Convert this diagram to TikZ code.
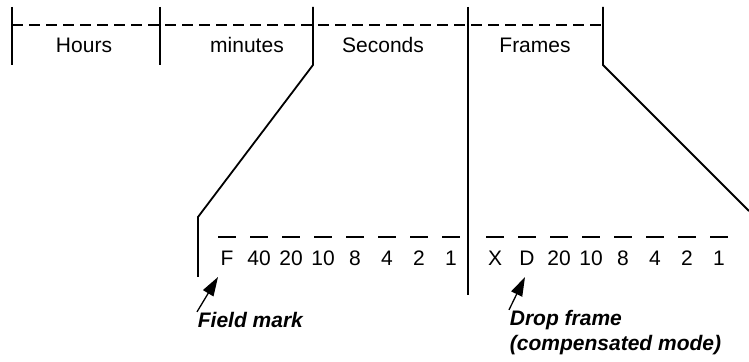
\documentclass[tikz,border=0pt]{standalone}
\usepackage{fontspec}
\setmainfont{Liberation Sans}
\usetikzlibrary{arrows.meta}

\begin{document}
\begin{tikzpicture}[x=0.5pt, y=-0.5pt, line width=0.9pt,
  every node/.style={inner sep=0pt, font=\fontsize{10.5}{12.5}\selectfont},
  note/.style={anchor=base west, font=\fontsize{10.5}{12.5}\selectfont\bfseries\itshape},
  pointer/.style={-{Triangle[length=9.5pt, width=6pt]}, line width=0.65pt}]
\useasboundingbox (0,0) rectangle (749,362);
% field boundaries of the time code
\coordinate (b1) at (12,7);
\coordinate (b2) at (160,7);
\coordinate (b3) at (313,7);
\coordinate (b4) at (468,7);
\coordinate (b5) at (603,7);
\draw (b1) -- (12,65);
\draw (b2) -- (160,65);
\draw (b3) -- (313,65) -- (198,217) -- (198,277);
\draw (b4) -- (468,295);
\draw (b5) -- (603,65) -- (749,211);
\draw[dash pattern=on 5.5pt off 3pt] (12,25) -- (603,25);
\node (hours) at (84,45) {Hours};
\node (mins) at (247,45) {minutes};
\node (secs) at (383,45) {Seconds};
\node (frms) at (535,45) {Frames};
% bit weights
\foreach \i in {0,...,7} {
  \draw ({218+32*\i},237) -- ++(18,0);
  \draw ({486+32*\i},237) -- ++(18,0);
}
\foreach \lab [count=\i from 0] in {F,40,20,10,8,4,2,1}
  \node (s\i) at ({227+32*\i},258) {\lab};
\foreach \lab [count=\i from 0] in {X,D,20,10,8,4,2,1}
  \node (f\i) at ({495+32*\i},258) {\lab};
% notes
\node[note] (fm) at (197,328) {Field mark};
\node[note] (df) at (509,326) {Drop frame};
\node[note] (cm) at (509,351) {(compensated mode)};
\coordinate (fmtip) at (218,277);
\coordinate (dftip) at (525,277);
\draw[pointer] (fm.north west) -- (fmtip);
\draw[pointer] (df.north west) -- (dftip);
\end{tikzpicture}
\end{document}
